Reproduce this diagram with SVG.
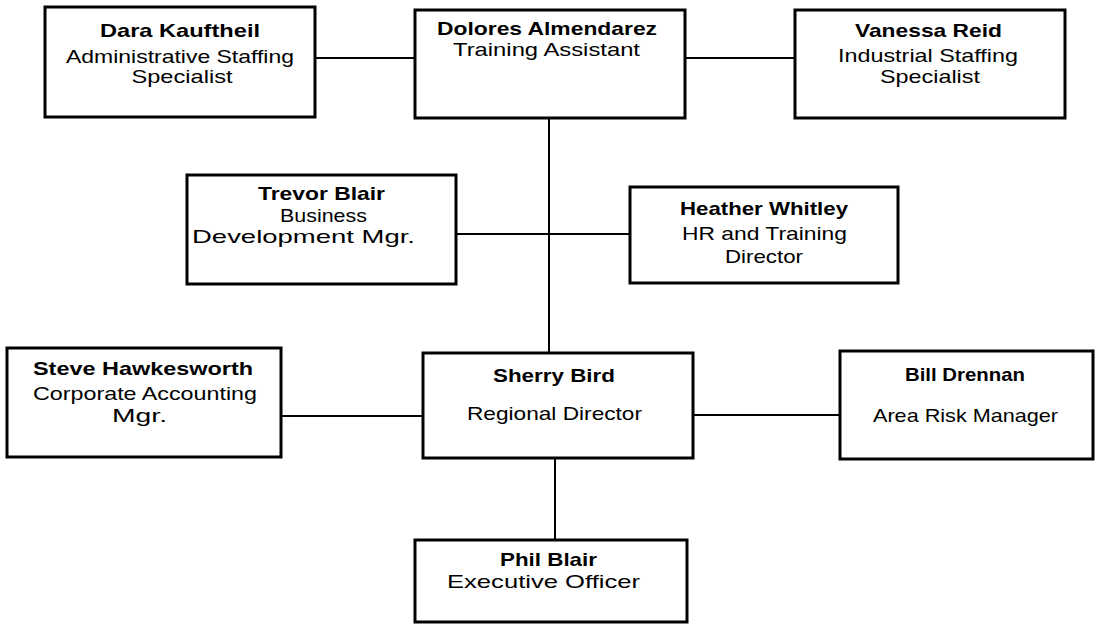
<svg xmlns="http://www.w3.org/2000/svg" width="1098" height="628" viewBox="0 0 1098 628">
<style>
.box{fill:#fff;stroke:#000;stroke-width:3}
.con{stroke:#000;stroke-width:2;fill:none}
text{font-family:"Liberation Sans",Arial,sans-serif;font-size:19px;fill:#000;text-anchor:middle}
.n{font-weight:bold}
</style>
<rect width="1098" height="628" fill="#fff"/>
<g id="connectors">
<line class="con" x1="315" y1="58" x2="415" y2="58"/>
<line class="con" x1="685" y1="58" x2="795" y2="58"/>
<line class="con" x1="549" y1="118" x2="549" y2="353"/>
<line class="con" x1="456" y1="234" x2="630" y2="234"/>
<line class="con" x1="281" y1="416" x2="423" y2="416"/>
<line class="con" x1="693" y1="415" x2="840" y2="415"/>
<line class="con" x1="555" y1="458" x2="555" y2="540"/>
</g>
<g id="dara">
<rect class="box" x="45" y="7" width="270" height="110"/>
<text class="n" x="180" y="36.5" textLength="160" lengthAdjust="spacingAndGlyphs">Dara Kauftheil</text>
<text x="180" y="62.5" textLength="228" lengthAdjust="spacingAndGlyphs">Administrative Staffing</text>
<text x="182" y="83" textLength="101" lengthAdjust="spacingAndGlyphs">Specialist</text>
</g>
<g id="dolores">
<rect class="box" x="415" y="10" width="270" height="108"/>
<text class="n" x="547" y="34.5" textLength="220" lengthAdjust="spacingAndGlyphs">Dolores Almendarez</text>
<text x="546.5" y="56" textLength="187" lengthAdjust="spacingAndGlyphs">Training Assistant</text>
</g>
<g id="vanessa">
<rect class="box" x="795" y="10" width="270" height="108"/>
<text class="n" x="928.5" y="36.5" textLength="147" lengthAdjust="spacingAndGlyphs">Vanessa Reid</text>
<text x="928" y="62" textLength="180" lengthAdjust="spacingAndGlyphs">Industrial Staffing</text>
<text x="930" y="83" textLength="100" lengthAdjust="spacingAndGlyphs">Specialist</text>
</g>
<g id="trevor">
<rect class="box" x="187" y="175" width="269" height="109"/>
<text class="n" x="321.5" y="200" textLength="127" lengthAdjust="spacingAndGlyphs">Trevor Blair</text>
<text x="323.5" y="221.5" textLength="87" lengthAdjust="spacingAndGlyphs">Business</text>
<text x="303.5" y="243" textLength="223" lengthAdjust="spacingAndGlyphs">Development Mgr.</text>
</g>
<g id="heather">
<rect class="box" x="630" y="187" width="268" height="96"/>
<text class="n" x="764" y="215" textLength="168" lengthAdjust="spacingAndGlyphs">Heather Whitley</text>
<text x="764.5" y="240" textLength="165" lengthAdjust="spacingAndGlyphs">HR and Training</text>
<text x="764" y="263" textLength="78" lengthAdjust="spacingAndGlyphs">Director</text>
</g>
<g id="steve">
<rect class="box" x="7" y="348" width="274" height="109"/>
<text class="n" x="143" y="375" textLength="220" lengthAdjust="spacingAndGlyphs">Steve Hawkesworth</text>
<text x="145" y="400" textLength="224" lengthAdjust="spacingAndGlyphs">Corporate Accounting</text>
<text x="139.5" y="422" textLength="55" lengthAdjust="spacingAndGlyphs">Mgr.</text>
</g>
<g id="sherry">
<rect class="box" x="423" y="353" width="270" height="105"/>
<text class="n" x="554" y="381.5" textLength="122" lengthAdjust="spacingAndGlyphs">Sherry Bird</text>
<text x="554.5" y="420" textLength="175" lengthAdjust="spacingAndGlyphs">Regional Director</text>
</g>
<g id="bill">
<rect class="box" x="840" y="351" width="253" height="108"/>
<text class="n" x="965" y="381" textLength="120" lengthAdjust="spacingAndGlyphs">Bill Drennan</text>
<text x="965.5" y="422" textLength="185" lengthAdjust="spacingAndGlyphs">Area Risk Manager</text>
</g>
<g id="phil">
<rect class="box" x="415" y="540" width="272" height="82"/>
<text class="n" x="548.5" y="566" textLength="97" lengthAdjust="spacingAndGlyphs">Phil Blair</text>
<text x="543.5" y="588" textLength="193" lengthAdjust="spacingAndGlyphs">Executive Officer</text>
</g>
</svg>
